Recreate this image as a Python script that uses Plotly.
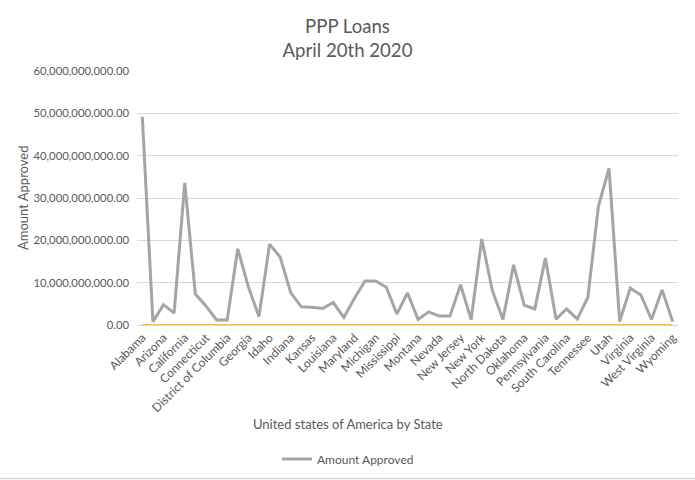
import plotly.graph_objects as go

states = ["Alabama", "Alaska", "Arizona", "Arkansas", "California", "Colorado", "Connecticut",
          "Delaware", "District of Columbia", "Florida", "Georgia", "Hawaii", "Idaho", "Illinois",
          "Indiana", "Iowa", "Kansas", "Kentucky", "Louisiana", "Maine", "Maryland", "Massachusetts",
          "Michigan", "Minnesota", "Mississippi", "Missouri", "Montana", "Nebraska", "Nevada",
          "New Hampshire", "New Jersey", "New Mexico", "New York", "North Carolina", "North Dakota",
          "Ohio", "Oklahoma", "Oregon", "Pennsylvania", "Rhode Island", "South Carolina",
          "South Dakota", "Tennessee", "Texas", "Utah", "Vermont", "Virginia", "Washington",
          "West Virginia", "Wisconsin", "Wyoming"]

# Amount approved, in billions of dollars
amount_b = [49.2, 0.8, 4.8, 2.8, 33.6, 7.3, 4.5, 1.2, 1.2, 18.0, 9.0, 2.0, 19.1, 16.0,
            7.6, 4.3, 4.2, 3.9, 5.3, 1.8, 6.3, 10.4, 10.4, 8.9, 2.6, 7.6, 1.3, 3.1, 2.1,
            2.1, 9.5, 1.3, 20.3, 8.1, 1.3, 14.2, 4.7, 3.8, 15.8, 1.4, 3.8, 1.4, 6.5, 28.1,
            37.0, 0.8, 8.7, 7.1, 1.3, 8.3, 0.8]
second_series = [0] * len(states)

amount = [v * 1e9 for v in amount_b]
xi = list(range(len(states)))
tick_idx = xi[::2]
tick_txt = [states[i] for i in tick_idx]

FONT = "Lato, Calibri, Carlito, sans-serif"
GREY = "#595959"

fig = go.Figure()
fig.add_trace(go.Scatter(x=xi, y=second_series, mode="lines", name="Series2",
                         line=dict(color="#FFC000", width=2), showlegend=False,
                         hoverinfo="skip"))
fig.add_trace(go.Scatter(x=xi, y=amount, mode="lines", name="Amount Approved",
                         line=dict(color="#A5A5A5", width=3)))

W, H = 695, 480
L, R, T, B = 137, 17, 71, 155
pw, ph = W - L - R, H - T - B

def px_x(x):
    return (x - L) / pw

def px_y(y):
    return (T + ph - y) / ph

fig.update_layout(
    width=W, height=H,
    margin=dict(l=L, r=R, t=T, b=B, autoexpand=False),
    paper_bgcolor="white", plot_bgcolor="white",
    font=dict(family=FONT, color=GREY, size=12),
    title=dict(text="PPP Loans<br>April 20th 2020", x=0.5, xanchor="center",
               y=1 - 33 / H, yanchor="middle",
               font=dict(family=FONT, size=18.6, color=GREY)),
    xaxis=dict(range=[-0.5, len(states) - 0.5], tickmode="array", tickvals=tick_idx,
               ticktext=tick_txt, tickangle=-45, showgrid=False, zeroline=False,
               showline=True, linecolor="#D9D9D9", ticks="", automargin=False,
               tickfont=dict(size=12, color=GREY)),
    yaxis=dict(range=[0, 6e10], dtick=1e10, tickformat=",.2f", showgrid=True,
               gridcolor="#D9D9D9", gridwidth=1, zeroline=False, showline=False,
               ticks="", automargin=False, ticklabelstandoff=7,
               tickfont=dict(size=11.3, color=GREY)),
    legend=dict(orientation="h", x=px_x(348), xanchor="center",
                y=px_y(459), yanchor="middle",
                font=dict(size=12, color=GREY), bgcolor="rgba(0,0,0,0)"),
    annotations=[
        dict(text="United states of America by State", xref="paper", yref="paper",
             x=px_x(347.5), y=px_y(424), xanchor="center", yanchor="middle",
             showarrow=False, font=dict(size=13, color=GREY)),
        dict(text="Amount Approved", xref="paper", yref="paper", textangle=-90,
             x=px_x(23), y=px_y(198), xanchor="center", yanchor="middle",
             showarrow=False, font=dict(size=13, color=GREY)),
    ],
    shapes=[dict(type="line", xref="paper", yref="paper",
                 x0=px_x(0), x1=px_x(W), y0=px_y(478.5), y1=px_y(478.5),
                 line=dict(color="#D9D9D9", width=1.5))],
    showlegend=True,
)

fig.write_html("out.html")
